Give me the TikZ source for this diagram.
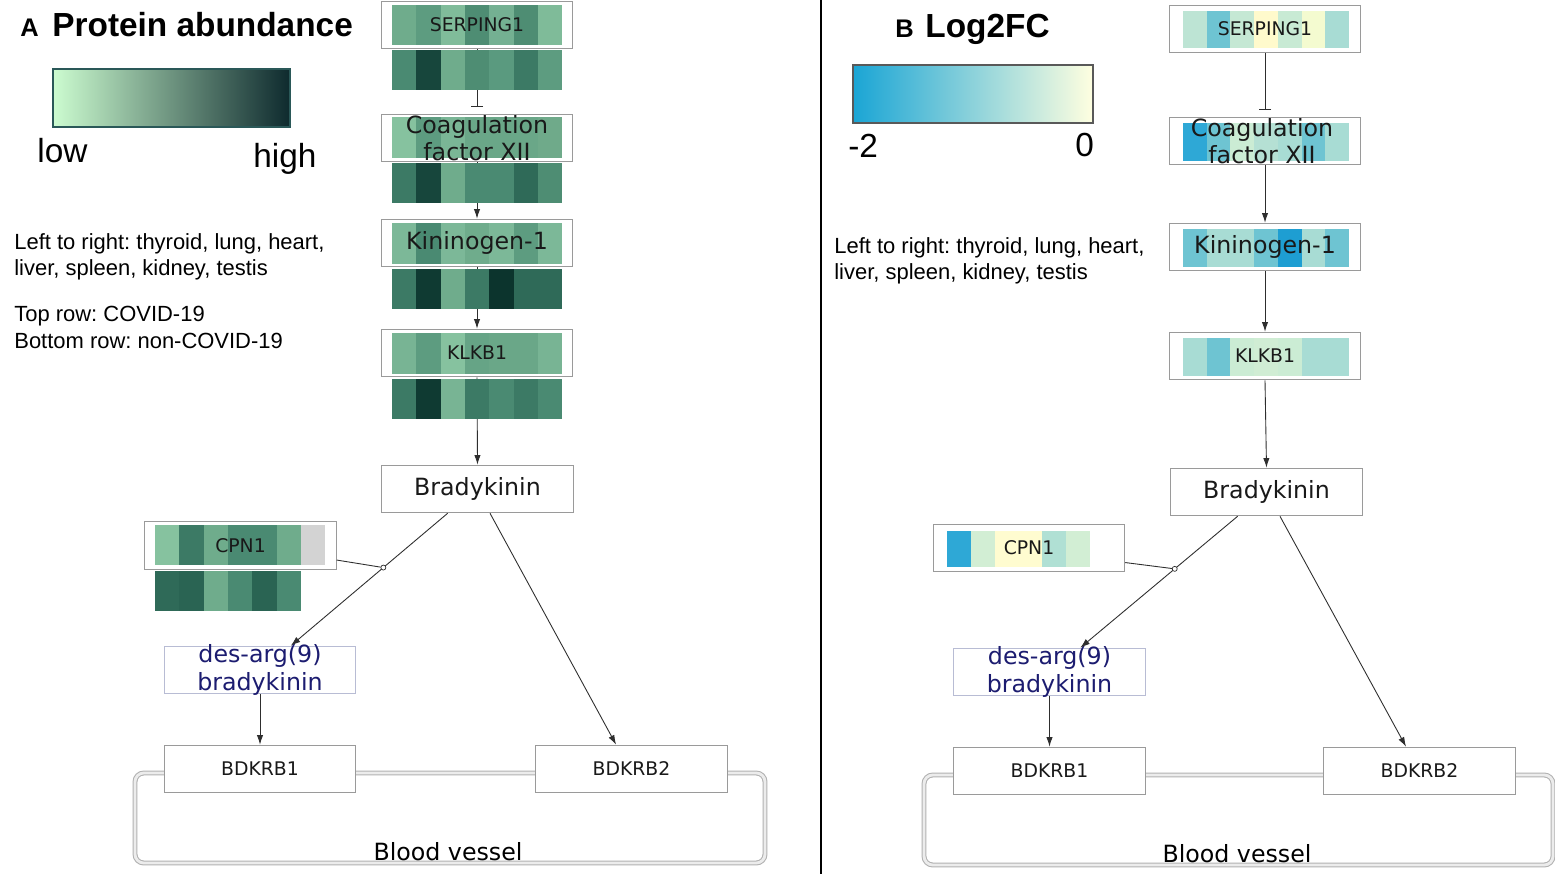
\documentclass[tikz,border=0pt]{standalone}
\usepackage{fontspec}
\setmainfont{Liberation Sans}
\newfontfamily\dejavu{DejaVu Sans}
\usetikzlibrary{arrows.meta,calc}
\frenchspacing

\definecolor{boxgray}{HTML}{9A9A9A}
\definecolor{desgray}{HTML}{B8BCD4}
\definecolor{linegray}{HTML}{2E2E2E}
\definecolor{desnavy}{HTML}{1C1C70}
\definecolor{barteal}{HTML}{2A5858}
\definecolor{lowmint}{HTML}{CCFCD0}
\definecolor{midmint}{HTML}{A8D4AE}
\definecolor{highteal}{HTML}{0E2A2E}
\definecolor{fcblue}{HTML}{1AA5D5}
\definecolor{fcmid}{HTML}{C4E6D8}
\definecolor{fcyellow}{HTML}{FFFFE0}

% heatmap row: left x, top y, cell width, cell height, colours
\newcommand{\heatcells}[5]{%
  \foreach \h [count=\i from 0] in {#5} {%
    \definecolor{cellcol}{HTML}{\h}%
    \fill[cellcol] ({#1+\i*#3},#2) rectangle ++(#3,#4);%
  }}

\begin{document}
\begin{tikzpicture}[x=0.02cm,y=-0.02cm,
    genebox/.style={draw=boxgray, line width=0.6pt, minimum width=3.83cm,
      minimum height=0.95cm, inner sep=0pt, text=black!90,
      font=\dejavu\fontsize{10.7}{12.8}\selectfont},
    plainbox/.style={genebox, fill=white},
    biglabel/.style={inner sep=0pt, align=center, text=black!90,
      font=\dejavu\fontsize{13.5}{15.6}\selectfont},
    conn/.style={draw=linegray, line width=0.5pt},
    act/.style={conn, -{Latex[length=5.5pt,width=3.6pt]}},
    inhib/.style={conn, -{Bar[width=7pt]}, shorten >=3.8pt},
    junction/.style={circle, draw=linegray, fill=white, line width=0.4pt,
      inner sep=0pt, minimum size=0.1cm},
    vessel/.style={draw=gray!60, double=gray!15, double distance=1.6pt,
      line width=0.6pt, rounded corners=5pt},
    note/.style={anchor=base west, inner sep=0pt, font=\fontsize{12.5}{15}\selectfont}]
  \useasboundingbox (0,0) rectangle (1555,874);
  \fill[white] (0,0) rectangle (1555,874);

  % ---------------- Panel A ----------------
  \node[anchor=base west, inner sep=0pt, font=\bfseries\fontsize{14.5}{16}\selectfont] (letterA) at (20,37) {A};
  \node[anchor=base west, inner sep=0pt, font=\bfseries\fontsize{19}{22}\selectfont] (titleA) at (52,37) {Protein abundance};

  % Drawing colour bar
  \draw[draw=barteal, line width=0.6pt, left color=lowmint, middle color=midmint, right color=highteal]
    (53,69) rectangle (290,127);
  \node[anchor=base west, inner sep=0pt, font=\fontsize{19}{22}\selectfont] (lowA) at (37,163) {low};
  \node[anchor=base west, inner sep=0pt, font=\fontsize{19}{22}\selectfont] (highA) at (253,168) {high};

  % Legend text
  \node[note] (orderA) at (14,250) {Left to right: thyroid, lung, heart,};
  \node[note] (orderA2) at (14,276) {liver, spleen, kidney, testis};
  \node[note] (topA) at (14,322) {Top row: COVID-19};
  \node[note] (botA) at (14,349) {Bottom row: non-COVID-19};

  % Drawing vessel
  \draw[vessel] (135,773) rectangle (765,863);
  \node[anchor=base, inner sep=0pt, font=\dejavu\fontsize{13.5}{16}\selectfont] (vesselA) at (448,860) {Blood vessel};

  % Top rows (COVID-19)
  \heatcells{392}{5}{24.3}{40}{6FAC8C,5D9C80,80BC9A,4E8D73,74B092,4E8D73,7FBB99}
  \heatcells{392}{117}{24.3}{41}{86C29F,5D9C80,7AB696,6AA788,6AA788,6AA788,6FAA8A}
  \heatcells{392}{223}{24.3}{41}{7CB898,4A8A72,7CB898,6FAC8C,7CB898,5D9C80,7CB898}
  \heatcells{392}{333}{24.3}{41}{78B494,5D9C80,86C29F,66A486,6AA788,6AA788,78B494}
  \heatcells{155}{525}{24.3}{40}{86C29F,3C7A65,6FAC8C,4A8A72,4A8A72,6FAC8C,D3D3D3}

  % Marking genes
  \node[genebox] (serpA) at (477,25) {SERPING1};
  \node[genebox] (coagA) at (477,138) {};
  \node[biglabel] (coagAtxt) at (coagA) {Coagulation\\factor XII};
  \node[genebox, font=\dejavu\fontsize{13.5}{16}\selectfont] (kinA) at (477,243) {Kininogen-1};
  \node[genebox] (klkA) at (477,353) {KLKB1};
  \node[plainbox, font=\dejavu\fontsize{13.5}{16}\selectfont] (bradyA) at (477.5,489) {Bradykinin};
  \node[genebox] (cpnA) at (240.5,545.5) {CPN1};
  \node[plainbox, draw=desgray] (desA) at (260,670) {};
  \node[biglabel, text=desnavy] (desAtxt) at (desA) {des-arg(9)\\bradykinin};
  \node[plainbox] (bdk1A) at (260,769) {BDKRB1};
  \node[plainbox] (bdk2A) at (631.5,769) {BDKRB2};

  % Drawing connectors
  \draw[inhib] (serpA.south) -- (coagA.north);
  \draw[act] (coagA.south) -- (kinA.north);
  \draw[act] (kinA.south) -- (klkA.north);
  \draw[act] (klkA.south) -- (bradyA.north);
  \draw[act] ($(bradyA.south west)!0.345!(bradyA.south east)$) -- node[junction, pos=0.41] (jA) {}
    ($(desA.north west)!0.66!(desA.north east)$);
  \draw[conn] ($(cpnA.south east)!0.2!(cpnA.north east)$) -- (jA);
  \draw[act] ($(bradyA.south west)!0.565!(bradyA.south east)$) -- ($(bdk2A.north west)!0.42!(bdk2A.north east)$);
  \draw[act] (desA.south) -- (bdk1A.north);

  % Bottom rows (non-COVID-19)
  \heatcells{392}{50}{24.3}{40}{4A8A72,17463C,6FAC8C,4E8D73,5A9A7F,3C7A65,5D9C80}
  \heatcells{392}{163}{24.3}{40}{3C7A65,17463C,6FAC8C,4A8A72,4A8A72,2F6A58,4E8D73}
  \heatcells{392}{269}{24.3}{40}{3C7A65,0F3A32,6FAC8C,3C7A65,0C342D,2F6A58,2F6A58}
  \heatcells{392}{379}{24.3}{40}{3C7A65,0F3A32,78B494,3C7A65,4A8A72,3C7A65,4A8A72}
  \heatcells{155}{571}{24.3}{40}{2F6A58,2A6453,6FAC8C,4A8A72,2A6453,4A8A72}

  % Divider
  \draw[line width=0.6pt] (821,0) -- (821,874);

  % ---------------- Panel B ----------------
  \node[anchor=base west, inner sep=0pt, font=\bfseries\fontsize{14.5}{16}\selectfont] (letterB) at (895,38) {B};
  \node[anchor=base west, inner sep=0pt, font=\bfseries\fontsize{19}{22}\selectfont] (titleB) at (925,38) {Log2FC};

  % Drawing colour bar
  \draw[draw=gray!70!black, line width=0.6pt, left color=fcblue, middle color=fcmid, right color=fcyellow]
    (853,65) rectangle (1093,123);
  \node[anchor=base west, inner sep=0pt, font=\fontsize{19}{22}\selectfont] (minB) at (848,158) {-2};
  \node[anchor=base west, inner sep=0pt, font=\fontsize{19}{22}\selectfont] (maxB) at (1075,157) {0};

  % Legend text
  \node[note] (orderB) at (834,254) {Left to right: thyroid, lung, heart,};
  \node[note] (orderB2) at (834,280) {liver, spleen, kidney, testis};

  % Drawing vessel
  \draw[vessel] (924,775) rectangle (1553,865);
  \node[anchor=base, inner sep=0pt, font=\dejavu\fontsize{13.5}{16}\selectfont] (vesselB) at (1237,862) {Blood vessel};

  % Fold changes
  \heatcells{1183}{11}{23.7}{37}{BDE4D4,6EC4D2,C5E8D4,FFFACC,C8EAD4,F4FBD0,A8DCD4}
  \heatcells{1183}{123}{23.7}{38}{2EA8D6,6EC4D2,CBECD4,B5E0D4,A8DCD4,6EC4D2,A8DCD4}
  \heatcells{1183}{229}{23.7}{38}{6EC4D2,A8DCD4,A8DCD4,6EC4D2,1E9ED2,A8DCD4,6EC4D2}
  \heatcells{1183}{338}{23.7}{38}{A8DCD4,6EC4D2,CBECD4,D0EDD4,CBECD4,A8DCD4,A8DCD4}
  \heatcells{947}{531}{23.8}{36}{2EA8D6,D2EED4,FFFCD0,FFFCD0,B0E0D4,D2EED4}

  % Marking genes
  \node[genebox] (serpB) at (1265,29) {SERPING1};
  \node[genebox] (coagB) at (1265,141) {};
  \node[biglabel] (coagBtxt) at (1262,141) {Coagulation\\factor XII};
  \node[genebox, font=\dejavu\fontsize{13.5}{16}\selectfont] (kinB) at (1265,247) {Kininogen-1};
  \node[genebox] (klkB) at (1265,356) {KLKB1};
  \node[plainbox, font=\dejavu\fontsize{13.5}{16}\selectfont] (bradyB) at (1266.5,492) {Bradykinin};
  \node[genebox] (cpnB) at (1029,548) {CPN1};
  \node[plainbox, draw=desgray] (desB) at (1049.5,672) {};
  \node[biglabel, text=desnavy] (desBtxt) at (desB) {des-arg(9)\\bradykinin};
  \node[plainbox] (bdk1B) at (1049.5,771) {BDKRB1};
  \node[plainbox] (bdk2B) at (1419.5,771) {BDKRB2};

  % Drawing connectors
  \draw[inhib] (serpB.south) -- (coagB.north);
  \draw[act] (coagB.south) -- (kinB.north);
  \draw[act] (kinB.south) -- (klkB.north);
  \draw[act] (klkB.south) -- (bradyB.north);
  \draw[act] ($(bradyB.south west)!0.35!(bradyB.south east)$) -- node[junction, pos=0.4] (jB) {}
    ($(desB.north west)!0.66!(desB.north east)$);
  \draw[conn] ($(cpnB.south east)!0.2!(cpnB.north east)$) -- (jB);
  \draw[act] ($(bradyB.south west)!0.57!(bradyB.south east)$) -- ($(bdk2B.north west)!0.43!(bdk2B.north east)$);
  \draw[act] (desB.south) -- (bdk1B.north);
\end{tikzpicture}
\end{document}
